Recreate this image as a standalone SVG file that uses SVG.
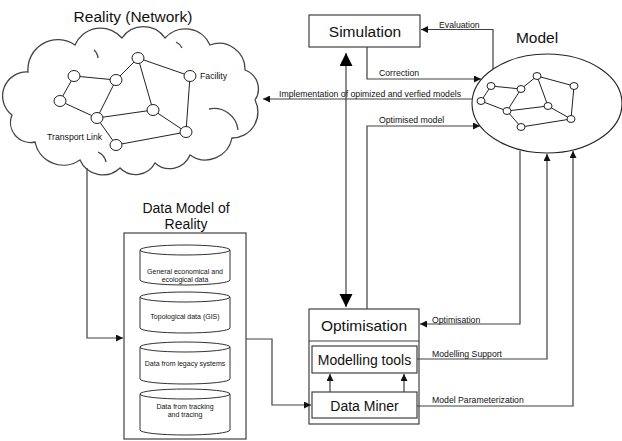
<svg xmlns="http://www.w3.org/2000/svg" width="622" height="441" viewBox="0 0 622 441">
<defs>
<marker id="a" markerUnits="userSpaceOnUse" markerWidth="8" markerHeight="7" refX="7" refY="3.5" orient="auto"><path d="M0,0 L7,3.5 L0,7 z" fill="#111"/></marker>
<marker id="big" markerUnits="userSpaceOnUse" markerWidth="14" markerHeight="14" refX="13" refY="6.5" orient="auto-start-reverse"><path d="M0,0 L13,6.5 L0,13 z" fill="#000"/></marker>
<style>
.t{font-family:"Liberation Sans",Arial,sans-serif;fill:#111}
.big{font-size:15.5px}
.mid{font-size:14px}
.sm{font-size:8.7px}
.xs{font-size:7px;text-anchor:middle}
.box{fill:#fff;stroke:#404040;stroke-width:1.2}
.ln{fill:none;stroke:#404040;stroke-width:1.2}
.nd{fill:#fff;stroke:#222;stroke-width:1}
.ed{stroke:#222;stroke-width:1}
.cl{fill:none;stroke:#444;stroke-width:1.3}
</style>
</defs>
<rect width="622" height="441" fill="#fff"/>

<g id="reality">
<text class="t big" x="133" y="22" text-anchor="middle">Reality (Network)</text>
<path d="M28,72 A30,30 0 0 1 75,45 A28,28 0 0 1 122,38 A26,26 0 0 1 165,38 A27,27 0 0 1 210,45 A26,26 0 0 1 245,70 A20,20 0 0 1 255,100 A26,26 0 0 1 232,138 A27,27 0 0 1 190,155 A22,22 0 0 1 155,163 A22,22 0 0 1 120,168 A25,25 0 0 1 80,160 A29,29 0 0 1 35,142 A20,20 0 0 1 12,115 A24,24 0 0 1 28,72 Z" fill="#fff" stroke="#444" stroke-width="1.3"/>
<path class="cl" d="M209,109 A24,24 0 0 1 238,130"/>
<path class="cl" d="M98,152 A14,14 0 0 1 106,162"/>
<path class="cl" d="M94,50 A12,12 0 0 1 98,58"/>
<path class="cl" d="M176,42 A12,12 0 0 1 182,48"/>
<g>
<line class="ed" x1="74" y1="76" x2="116" y2="80"/>
<line class="ed" x1="116" y1="80" x2="138" y2="58"/>
<line class="ed" x1="138" y1="58" x2="190" y2="76"/>
<line class="ed" x1="138" y1="58" x2="153" y2="110"/>
<line class="ed" x1="116" y1="80" x2="97" y2="118"/>
<line class="ed" x1="74" y1="76" x2="60" y2="101"/>
<line class="ed" x1="60" y1="101" x2="97" y2="118"/>
<line class="ed" x1="97" y1="118" x2="153" y2="110"/>
<line class="ed" x1="153" y1="110" x2="186" y2="132"/>
<line class="ed" x1="190" y1="76" x2="186" y2="132"/>
<line class="ed" x1="97" y1="118" x2="116" y2="145"/>
<line class="ed" x1="116" y1="145" x2="186" y2="132"/>
<ellipse class="nd" cx="138" cy="58" rx="6" ry="5.5"/>
<ellipse class="nd" cx="74" cy="76" rx="6" ry="5.5"/>
<ellipse class="nd" cx="116" cy="80" rx="6" ry="5.5"/>
<ellipse class="nd" cx="190" cy="76" rx="6" ry="5.5"/>
<ellipse class="nd" cx="60" cy="101" rx="6" ry="5.5"/>
<ellipse class="nd" cx="97" cy="118" rx="6" ry="5.5"/>
<ellipse class="nd" cx="153" cy="110" rx="6" ry="5.5"/>
<ellipse class="nd" cx="186" cy="132" rx="6" ry="5.5"/>
<ellipse class="nd" cx="116" cy="145" rx="6" ry="5.5"/>
</g>
<text class="t sm" x="200" y="79">Facility</text>
<text class="t sm" x="47" y="140">Transport Link</text>
</g>

<g id="model">
<text class="t big" x="537" y="43" text-anchor="middle">Model</text>
<ellipse cx="547" cy="103.5" rx="75" ry="49.5" fill="#fff" stroke="#222" stroke-width="1.1"/>
<line class="ed" x1="491" y1="86" x2="521" y2="89"/>
<line class="ed" x1="521" y1="89" x2="537" y2="76"/>
<line class="ed" x1="537" y1="76" x2="574" y2="86"/>
<line class="ed" x1="537" y1="76" x2="548" y2="106"/>
<line class="ed" x1="521" y1="89" x2="507" y2="111"/>
<line class="ed" x1="491" y1="86" x2="481" y2="101"/>
<line class="ed" x1="481" y1="101" x2="507" y2="111"/>
<line class="ed" x1="507" y1="111" x2="548" y2="106"/>
<line class="ed" x1="548" y1="106" x2="571" y2="119"/>
<line class="ed" x1="574" y1="86" x2="571" y2="119"/>
<line class="ed" x1="507" y1="111" x2="521" y2="127"/>
<line class="ed" x1="521" y1="127" x2="571" y2="119"/>
<ellipse class="nd" cx="491" cy="86" rx="4" ry="3.5"/>
<ellipse class="nd" cx="521" cy="89" rx="4" ry="3.5"/>
<ellipse class="nd" cx="537" cy="76" rx="4" ry="3.5"/>
<ellipse class="nd" cx="574" cy="86" rx="4" ry="3.5"/>
<ellipse class="nd" cx="481" cy="101" rx="4" ry="3.5"/>
<ellipse class="nd" cx="507" cy="111" rx="4" ry="3.5"/>
<ellipse class="nd" cx="548" cy="106" rx="4" ry="3.5"/>
<ellipse class="nd" cx="571" cy="119" rx="4" ry="3.5"/>
<ellipse class="nd" cx="521" cy="127" rx="4" ry="3.5"/>
</g>

<g id="simulation">
<rect class="box" x="309" y="15" width="111" height="32"/>
<text class="t big" x="365" y="37" text-anchor="middle">Simulation</text>
</g>

<g id="datamodel">
<text class="t mid" x="186" y="213" text-anchor="middle">Data Model of</text>
<text class="t mid" x="186" y="229" text-anchor="middle">Reality</text>
<rect class="box" x="124" y="233" width="122" height="206"/>
<g fill="#fff" stroke="#333" stroke-width="1">
<path d="M140,250 V280 A45,5 0 0 0 230,280 V250"/>
<ellipse cx="185" cy="250" rx="45" ry="5"/>
<path d="M140,297 V328 A45,5 0 0 0 230,328 V297"/>
<ellipse cx="185" cy="297" rx="45" ry="5"/>
<path d="M140,347 V379 A45,5 0 0 0 230,379 V347"/>
<ellipse cx="185" cy="347" rx="45" ry="5"/>
<path d="M140,394 V430 A45,5 0 0 0 230,430 V394"/>
<ellipse cx="185" cy="394" rx="45" ry="5"/>
</g>
<text class="t xs" x="185" y="273.5">General economical and</text>
<text class="t xs" x="185" y="282">ecological data</text>
<text class="t xs" x="185" y="319">Topological data (GIS)</text>
<text class="t xs" x="185" y="366">Data from legacy systems</text>
<text class="t xs" x="185" y="408.5">Data from tracking</text>
<text class="t xs" x="185" y="417">and tracing</text>
</g>

<g id="optimisation">
<rect class="box" x="309" y="309" width="110" height="115"/>
<line class="ln" x1="309" y1="341" x2="419" y2="341"/>
<text class="t big" x="364" y="331" text-anchor="middle">Optimisation</text>
</g>
<g id="modellingtools">
<rect class="box" x="312" y="346" width="105" height="27"/>
<text class="t mid" x="364.5" y="365" text-anchor="middle">Modelling tools</text>
</g>
<g id="dataminer">
<rect class="box" x="312" y="392" width="105" height="26"/>
<text class="t mid" x="364.5" y="410.5" text-anchor="middle">Data Miner</text>
</g>

<g id="connectors">
<path class="ln" d="M87,168 V338 H123" marker-end="url(#a)"/>
<path class="ln" d="M246,339 H272 V405 H311" marker-end="url(#a)"/>
<path class="ln" d="M330,392 V374" marker-end="url(#a)"/>
<path class="ln" d="M404,392 V374" marker-end="url(#a)"/>
<path class="ln" d="M346,53 V307" marker-start="url(#big)" marker-end="url(#big)"/>
<path class="ln" d="M367,309 V126 H480" marker-end="url(#a)"/>
<path class="ln" d="M367,47 V79 H481" marker-end="url(#a)"/>
<path class="ln" d="M493,69 V29.5 H421" marker-end="url(#a)"/>
<path class="ln" d="M472,99 H263" marker-end="url(#a)"/>
<path class="ln" d="M520,151 V324 H420" marker-end="url(#a)"/>
<path class="ln" d="M417,359 H547 V154" marker-end="url(#a)"/>
<path class="ln" d="M417,406 H573 V151" marker-end="url(#a)"/>
<text class="t sm" x="439" y="28">Evaluation</text>
<text class="t sm" x="379" y="76">Correction</text>
<text class="t sm" x="279" y="96.5">Implementation of opimized and verfied models</text>
<text class="t sm" x="379" y="123">Optimised model</text>
<text class="t sm" x="432" y="322.5">Optimisation</text>
<text class="t sm" x="432" y="357">Modelling Support</text>
<text class="t sm" x="432" y="403">Model Parameterization</text>
</g>
</svg>
